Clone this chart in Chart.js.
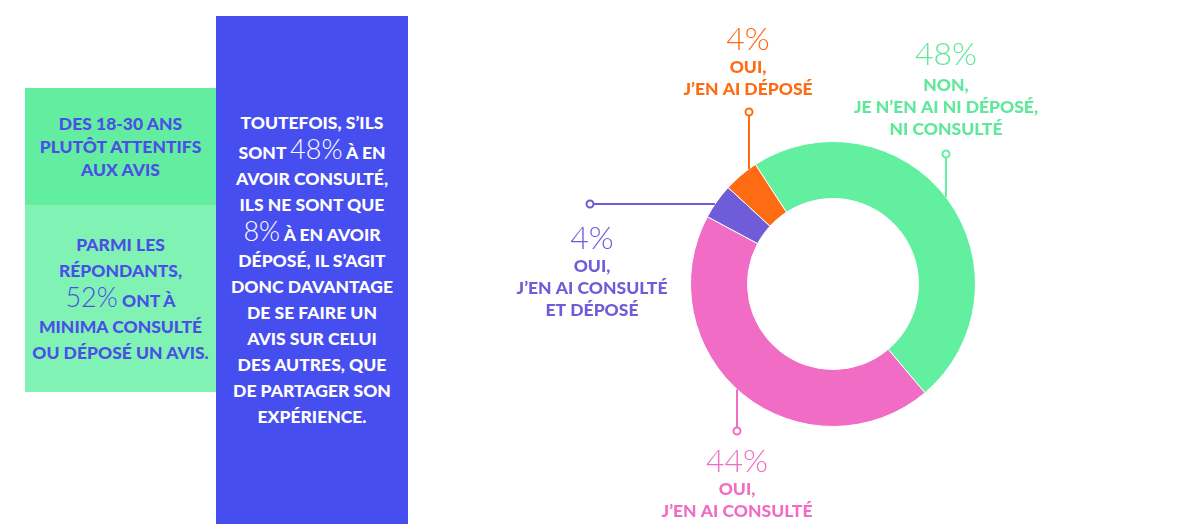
<!DOCTYPE html>
<html lang="fr">
<head>
<meta charset="utf-8">
<script src="https://cdn.jsdelivr.net/npm/chart.js@4.4.0/dist/chart.umd.min.js"></script>
<style>
  html, body { margin:0; padding:0; background:#fff; width:1200px; height:530px; overflow:hidden; }
  #wrap { position:relative; width:1200px; height:530px; }
  #chartBox { position:absolute; left:0; top:0; width:1200px; height:530px; }
  .box { position:absolute; display:flex; align-items:center; justify-content:center; text-align:center;
         font-family:'Lato', sans-serif; font-weight:900; text-transform:uppercase; }
  .box .num { font-weight:300; font-size:27px; }
  #b1 { left:25px; top:88px; width:191px; height:117px; background:#62EDA0; color:#4B4FE6; font-size:17.5px; line-height:23px; }
  #b2 { left:25px; top:205px; width:191px; height:187px; background:#80F3B4; color:#4B4FE6; font-size:17.5px; line-height:26px; }
  #b3 { left:216px; top:16px; width:192px; height:508px; background:#474EF0; color:#fff; font-size:17.5px; line-height:26px; }
</style>
</head>
<body>
<div id="wrap">
  <div id="chartBox"><canvas id="c"></canvas></div>
  <div class="box" id="b1"><div>Des 18-30 ans<br>plutôt attentifs<br>aux avis</div></div>
  <div class="box" id="b2"><div>Parmi les<br>répondants,<br><span class="num">52%</span> ont à<br>minima consulté<br>ou déposé un avis.</div></div>
  <div class="box" id="b3"><div>Toutefois, s’ils<br>sont <span class="num">48%</span> à en<br>avoir consulté,<br>ils ne sont que<br><span class="num">8%</span> à en avoir<br>déposé, il s’agit<br>donc davantage<br>de se faire un<br>avis sur celui<br>des autres, que<br>de partager son<br>expérience.</div></div>
</div>
<script>
// ---- data ----
const categories = ['Non, je n’en ai ni déposé, ni consulté', 'Oui, j’en ai consulté', 'Oui, j’en ai consulté et déposé', 'Oui, j’en ai déposé'];
const values = [48, 44, 4, 4];
const labelLines = [
  ['NON,', 'JE N’EN AI NI DÉPOSÉ,', 'NI CONSULTÉ'],
  ['OUI,', 'J’EN AI CONSULTÉ'],
  ['OUI,', 'J’EN AI CONSULTÉ', 'ET DÉPOSÉ'],
  ['OUI,', 'J’EN AI DÉPOSÉ']
];
const colors = ['#62EFA0', '#F06CC5', '#6F5CD8', '#FF6B12'];
const textColors = ['#5EE89A', '#F06CC5', '#6F5CD8', '#FF6B12'];

// label layout (relative to donut centre)
const leaders = [
  { dir:'up',   along: 113, dot: -130, tx: 113, pctY: -229, lineY: -199 },
  { dir:'down', along: -96, dot: 147,  tx: -96, pctY: 178,  lineY: 205 },
  { dir:'left', along: -80, dot: -243, tx: -241, pctY: -45, lineY: -18 },
  { dir:'up',   along: -84, dot: -172, tx: -85, pctY: -244, lineY: -217 }
];

const labelPlugin = {
  id: 'labels',
  afterDraw(chart) {
    const ctx = chart.ctx;
    const meta = chart.getDatasetMeta(0);
    meta.data.forEach((arc, i) => {
      const cx = arc.x, cy = arc.y, R = arc.outerRadius;
      const L = leaders[i];
      const col = colors[i];
      let x0, y0, x1, y1;
      if (L.dir === 'up' || L.dir === 'down') {
        const s = L.dir === 'up' ? -1 : 1;
        x0 = x1 = cx + L.along;
        y0 = cy + s * Math.sqrt(R*R - L.along*L.along);
        y1 = cy + L.dot;
      } else {
        y0 = y1 = cy + L.along;
        x0 = cx - Math.sqrt(R*R - L.along*L.along);
        x1 = cx + L.dot;
      }
      ctx.save();
      ctx.strokeStyle = col; ctx.lineWidth = 2;
      ctx.beginPath(); ctx.moveTo(x0, y0); ctx.lineTo(x1, y1); ctx.stroke();
      ctx.fillStyle = '#fff';
      ctx.beginPath(); ctx.arc(x1, y1, 3.5, 0, Math.PI*2); ctx.fill(); ctx.stroke();
      // texts
      ctx.fillStyle = textColors[i];
      ctx.textAlign = 'center'; ctx.textBaseline = 'middle';
      ctx.font = '300 32px Lato, sans-serif';
      ctx.fillText(values[i] + '%', cx + L.tx, cy + L.pctY);
      ctx.font = '900 17.5px Lato, sans-serif';
      labelLines[i].forEach((t, k) => ctx.fillText(t, cx + L.tx, cy + L.lineY + k*22));
      ctx.restore();
    });
  }
};

new Chart(document.getElementById('c'), {
  type: 'doughnut',
  data: {
    labels: categories,
    datasets: [{ data: values, backgroundColor: colors, borderColor: '#ffffff', borderWidth: 1, hoverOffset: 0 }]
  },
  options: {
    responsive: true, maintainAspectRatio: false, animation: false,
    rotation: -33, cutout: '60%',
    layout: { padding: { left: 690, right: 224, top: 141, bottom: 103 } },
    plugins: { legend: { display: false }, tooltip: { enabled: false } }
  },
  plugins: [labelPlugin]
});
</script>
</body>
</html>
